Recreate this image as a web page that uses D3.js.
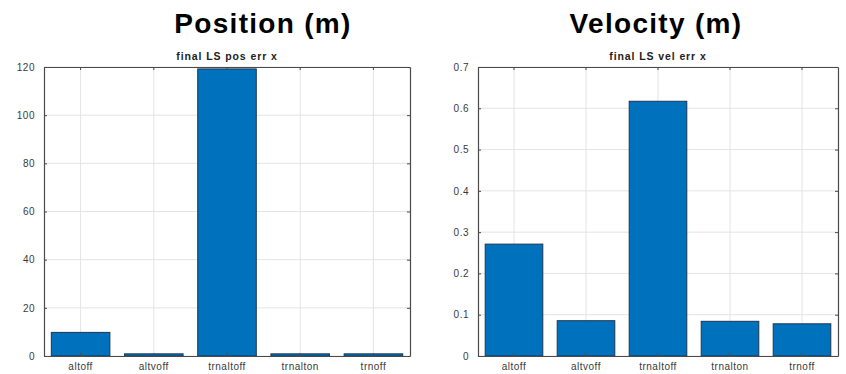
<!DOCTYPE html>
<html>
<head>
<meta charset="utf-8">
<script src="https://cdn.jsdelivr.net/npm/d3@7"></script>
<style>
  html, body { margin: 0; padding: 0; background: #fff; }
  svg { display: block; font-family: "Liberation Sans", Arial, Helvetica, sans-serif; }
</style>
</head>
<body>
<svg id="chart" width="846" height="374"></svg>
<script>
// ---- data ----
const categories = ["altoff", "altvoff", "trnaltoff", "trnalton", "trnoff"];
const posValues = [9.8, 0.9, 119.2, 0.9, 0.9];
const velValues = [0.271, 0.0855, 0.617, 0.084, 0.078];
const posTicks = [0, 20, 40, 60, 80, 100, 120];
const velTicks = [0, 0.1, 0.2, 0.3, 0.4, 0.5, 0.6, 0.7];
const posDomain = [0, 120];
const velDomain = [0, 0.7];
const mainTitles = ["Position (m)", "Velocity (m)"];
const subTitles = ["final LS pos err x", "final LS vel err x"];

const svg = d3.select("#chart");

const panels = [
  { values: posValues, ticks: posTicks, domain: posDomain, fmt: d => String(d),
    left: 44, right: 410, title: mainTitles[0], titleX: 263, sub: subTitles[0] },
  { values: velValues, ticks: velTicks, domain: velDomain, fmt: d => d === 0 ? "0" : d3.format(".1f")(d),
    left: 478, right: 838, title: mainTitles[1], titleX: 656, sub: subTitles[1] }
];

const plotTop = 67, plotBottom = 356;
const axisColor = "#4a4a4a";
const textColor = "#3a3a3a";
const gridColor = "#e4e4e4";

panels.forEach(p => {
  const g = svg.append("g");
  const x = d3.scaleBand().domain(categories).range([p.left, p.right])
    .paddingInner(0.2).paddingOuter(0.1);
  const y = d3.scaleLinear().domain(p.domain).range([plotBottom, plotTop]);

  // main title
  svg.append("text")
    .attr("x", p.titleX).attr("y", 33)
    .attr("text-anchor", "middle")
    .attr("font-size", 28).attr("font-weight", "bold")
    .attr("letter-spacing", 1.3)
    .attr("fill", "#000")
    .text(p.title);

  // subtitle
  g.append("text")
    .attr("x", (p.left + p.right) / 2).attr("y", 60)
    .attr("text-anchor", "middle")
    .attr("font-size", 10.5).attr("font-weight", "bold")
    .attr("letter-spacing", 0.9)
    .attr("fill", "#222")
    .text(p.sub);

  // grid
  g.append("g").selectAll("line").data(p.ticks).join("line")
    .attr("x1", p.left).attr("x2", p.right)
    .attr("y1", d => y(d)).attr("y2", d => y(d))
    .attr("stroke", gridColor).attr("stroke-width", 1);
  g.append("g").selectAll("line").data(categories).join("line")
    .attr("x1", d => x(d) + x.bandwidth() / 2).attr("x2", d => x(d) + x.bandwidth() / 2)
    .attr("y1", plotTop).attr("y2", plotBottom)
    .attr("stroke", gridColor).attr("stroke-width", 1);

  // bars
  g.append("g").selectAll("rect").data(p.values).join("rect")
    .attr("x", (d, i) => x(categories[i]))
    .attr("width", x.bandwidth())
    .attr("y", d => y(d))
    .attr("height", d => y(0) - y(d))
    .attr("fill", "#0072BD")
    .attr("stroke", "#1d3550")
    .attr("stroke-width", 1);

  // axes with inward ticks
  const yAxisL = d3.axisLeft(y).tickValues(p.ticks).tickFormat(p.fmt).tickSizeInner(-3).tickSizeOuter(0).tickPadding(9);
  const yAxisR = d3.axisRight(y).tickValues(p.ticks).tickFormat("").tickSizeInner(-3).tickSizeOuter(0);
  const xAxisB = d3.axisBottom(x).tickSizeInner(-3).tickSizeOuter(0).tickPadding(7);
  const xAxisT = d3.axisTop(x).tickFormat("").tickSizeInner(-3).tickSizeOuter(0);

  const ax = [
    g.append("g").attr("transform", `translate(${p.left},0)`).call(yAxisL),
    g.append("g").attr("transform", `translate(${p.right},0)`).call(yAxisR),
    g.append("g").attr("transform", `translate(0,${plotBottom})`).call(xAxisB),
    g.append("g").attr("transform", `translate(0,${plotTop})`).call(xAxisT)
  ];
  ax.forEach(a => {
    a.select(".domain").attr("stroke", axisColor).attr("stroke-width", 1.2);
    a.selectAll(".tick line").attr("stroke", axisColor);
    a.selectAll("text").attr("fill", textColor).attr("font-size", 10)
      .attr("font-family", "'Liberation Sans', Arial, sans-serif")
      .attr("letter-spacing", 0.5);
  });
});
</script>
</body>
</html>
